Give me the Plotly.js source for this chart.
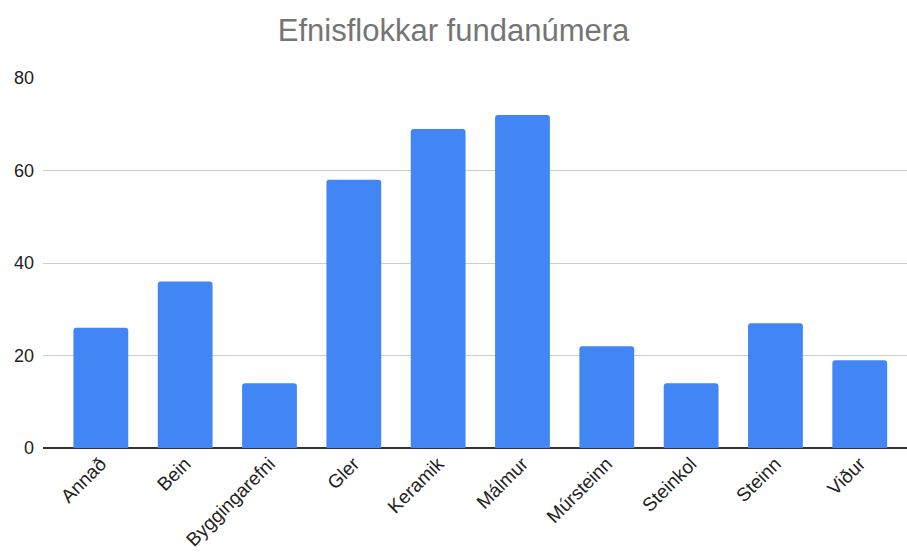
<!DOCTYPE html>
<html>
<head>
<meta charset="utf-8">
<script src="https://cdn.plot.ly/plotly-3.0.1.min.js"></script>
<style>
html,body{margin:0;padding:0;background:#fff;}
#chart{width:907px;height:555px;}
</style>
</head>
<body>
<div id="chart"></div>
<script>
const categories = ["Annað","Bein","Byggingarefni","Gler","Keramik","Málmur","Múrsteinn","Steinkol","Steinn","Viður"];
const values = [26, 36, 14, 58, 69, 72, 22, 14, 27, 19];
const yTicks = [0, 20, 40, 60, 80];
const chartTitle = "Efnisflokkar fundanúmera";

const trace = {
  type: "bar",
  x: categories,
  y: values,
  marker: {color: "#4285F4", cornerradius: 3},
  hoverinfo: "x+y"
};

const layout = {
  width: 907,
  height: 555,
  paper_bgcolor: "#ffffff",
  plot_bgcolor: "rgba(0,0,0,0)",
  margin: {l: 43, r: 0, t: 78, b: 107},
  font: {family: "Liberation Sans, Arial, sans-serif", color: "#222222"},
  title: {
    text: chartTitle,
    font: {size: 31, color: "#757575", family: "Liberation Sans, Arial, sans-serif"},
    x: 0.5, xanchor: "center",
    y: 0.945, yanchor: "middle"
  },
  bargap: 0.35,
  showlegend: false,
  xaxis: {
    type: "category",
    range: [-0.686, 9.56],
    tickangle: -45,
    tickfont: {size: 19, color: "#222222"},
    showgrid: false,
    showline: false,
    zeroline: false,
    ticks: "",
    automargin: false,
    fixedrange: true
  },
  yaxis: {
    range: [0, 80],
    tickvals: yTicks,
    ticktext: yTicks.map(String),
    tickfont: {size: 18, color: "#222222"},
    showgrid: true,
    gridcolor: "#cccccc",
    gridwidth: 1,
    zeroline: true,
    zerolinecolor: "#333333",
    zerolinewidth: 1.5,
    showline: false,
    ticks: "",
    ticklabelstandoff: 8,
    automargin: false,
    fixedrange: true
  }
};

Plotly.newPlot("chart", [trace], layout, {displayModeBar: false, staticPlot: true});
</script>
</body>
</html>
